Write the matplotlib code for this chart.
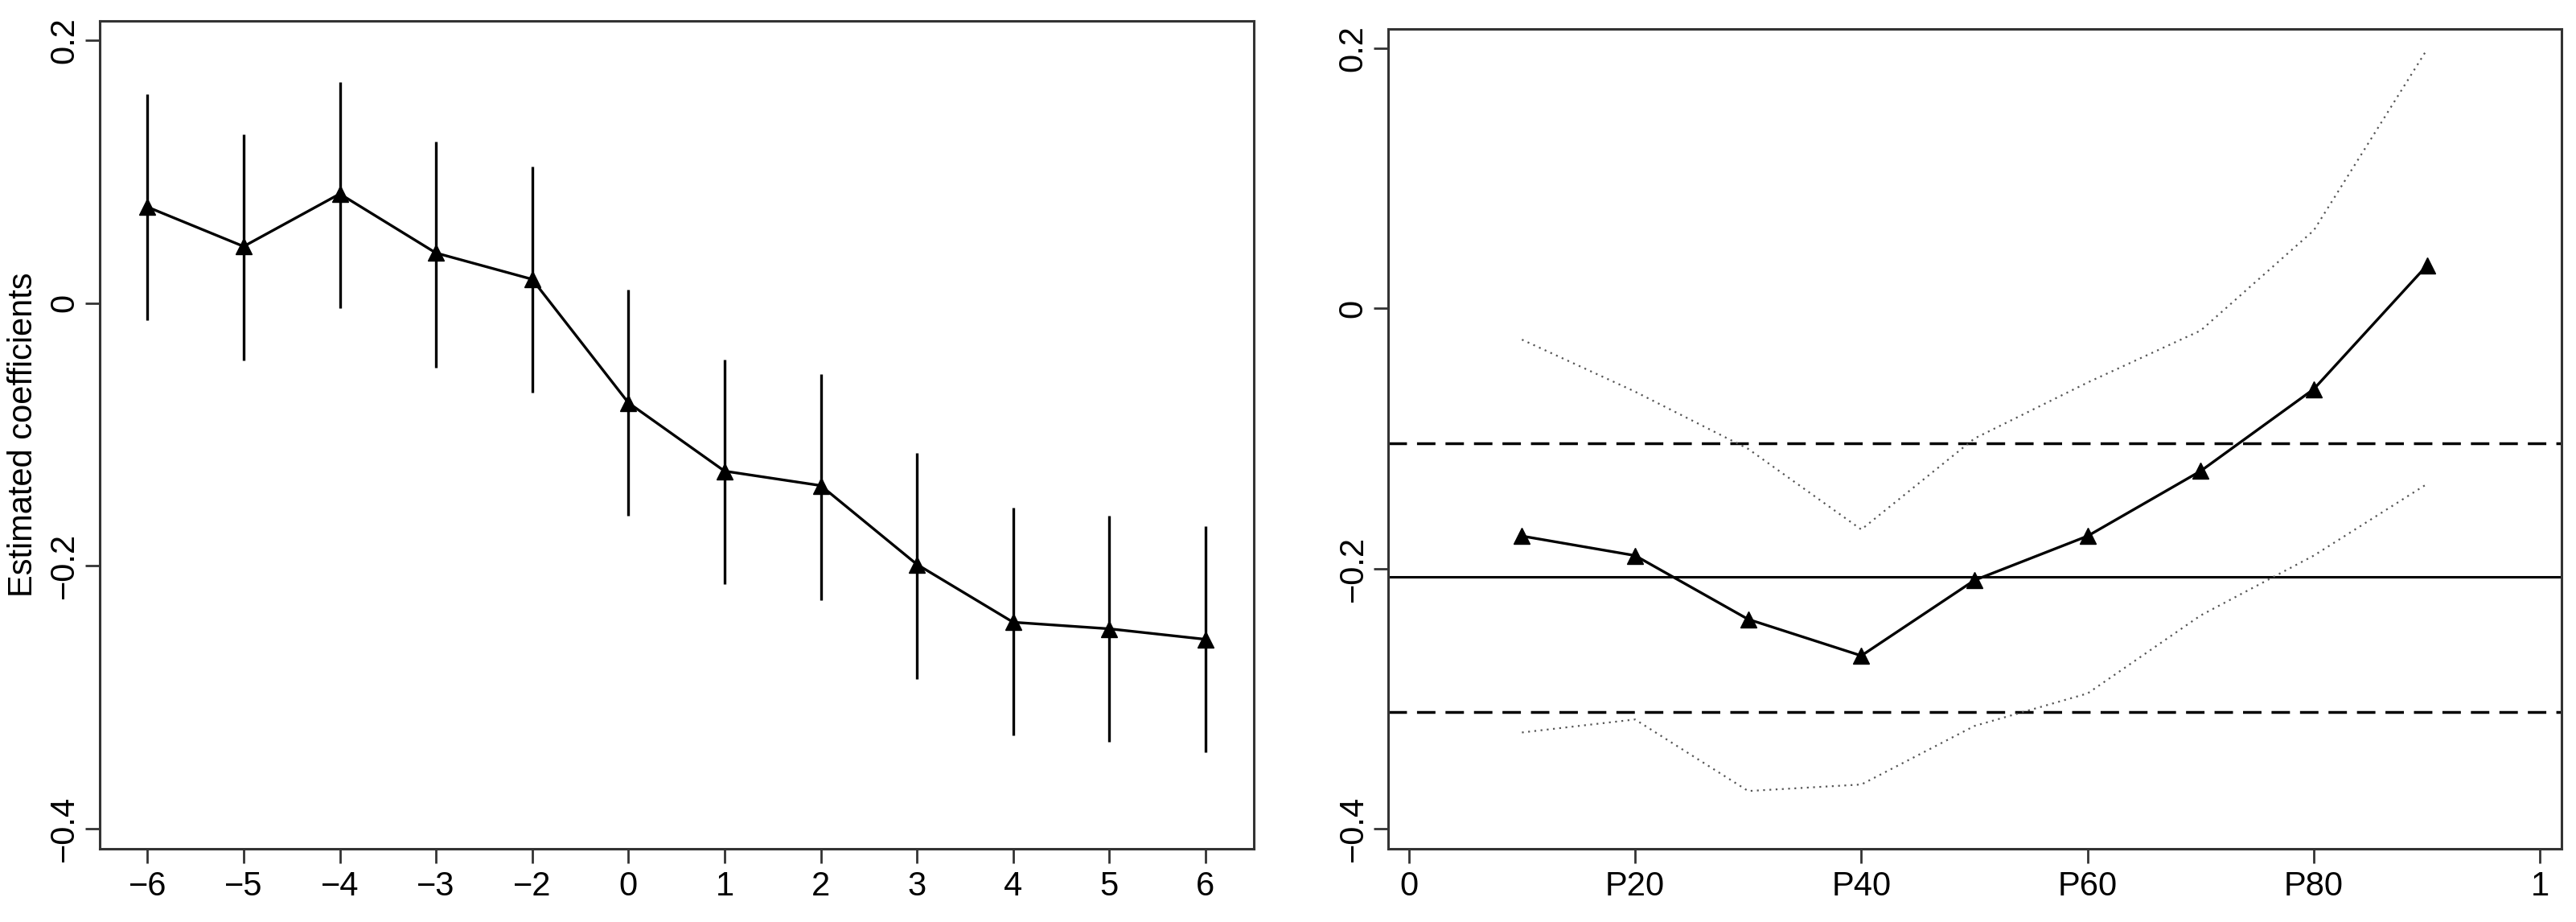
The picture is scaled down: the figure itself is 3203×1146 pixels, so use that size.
import matplotlib
matplotlib.use('Agg')
from matplotlib import pyplot as plt

plt.rcParams['font.family'] = ['Liberation Sans', 'DejaVu Sans']

# left panel: event-time coefficients with confidence bars
event_labels = ['\u22126', '\u22125', '\u22124', '\u22123', '\u22122', '0',
                '1', '2', '3', '4', '5', '6']
event_coef = [0.073, 0.043, 0.083, 0.038, 0.018, -0.076,
              -0.128, -0.139, -0.199, -0.243, -0.248, -0.256]
event_lo = [-0.013, -0.044, -0.004, -0.049, -0.068, -0.162,
            -0.214, -0.226, -0.286, -0.329, -0.334, -0.342]
event_hi = [0.159, 0.128, 0.168, 0.123, 0.104, 0.010,
            -0.043, -0.054, -0.114, -0.156, -0.162, -0.170]

# right panel: quantile coefficients with bands
quantiles = [0.1, 0.2, 0.3, 0.4, 0.5, 0.6, 0.7, 0.8, 0.9]
q_coef = [-0.175, -0.190, -0.239, -0.267, -0.209, -0.175, -0.125, -0.062, 0.033]
q_hi = [-0.024, -0.064, -0.108, -0.170, -0.100, -0.057, -0.017, 0.060, 0.199]
q_lo = [-0.326, -0.316, -0.371, -0.366, -0.321, -0.296, -0.236, -0.190, -0.135]
mean_coef = -0.2066
mean_lo = -0.310
mean_hi = -0.1036
q_ticks = [0, 0.2, 0.4, 0.6, 0.8, 1]
q_ticklabels = ['0', 'P20', 'P40', 'P60', 'P80', '1']

y_ticks = [0.2, 0, -0.2, -0.4]
y_ticklabels = ['0.2', '0', '\u22120.2', '\u22120.4']

FS = 30
BOX = '#333333'

fig = plt.figure(figsize=(32.03, 11.46), dpi=100)
ax1 = fig.add_axes([0.03856, 0.0790, 0.4481, 0.8983])
ax2 = fig.add_axes([0.5390, 0.0790, 0.4554, 0.8893])


def style_axes(ax):
    for sp in ax.spines.values():
        sp.set_color(BOX)
        sp.set_linewidth(2.2)
    ax.tick_params(axis='both', direction='out', length=13, width=2,
                   color=BOX, labelsize=FS, labelcolor='black')
    ax.tick_params(axis='x', pad=6)
    ax.tick_params(axis='y', pad=4)
    ax.set_yticks(y_ticks)
    ax.set_yticklabels(y_ticklabels, rotation=90, va='center')
    ax.set_ylim(-0.4157, 0.2146)


pos = list(range(1, len(event_coef) + 1))
ax1.vlines(pos, event_lo, event_hi, color='black', lw=2.4)
ax1.plot(pos, event_coef, color='black', lw=2.4, marker='^',
         markersize=14)
ax1.set_xlim(0.5, 12.5)
ax1.set_xticks(pos)
ax1.set_xticklabels(event_labels)
style_axes(ax1)
ax1.set_ylabel('Estimated coefficients', fontsize=FS)
ax1.yaxis.set_label_coords(-0.052, 0.5)

ax2.axhline(mean_coef, color='black', lw=2.2)
ax2.axhline(mean_hi, color='black', lw=2.5, linestyle=(0, (6.6, 3.6)))
ax2.axhline(mean_lo, color='black', lw=2.5, linestyle=(0, (6.6, 3.6)))
ax2.plot(quantiles, q_hi, color='#555555', lw=1.6, linestyle=(0, (1, 2.5)))
ax2.plot(quantiles, q_lo, color='#555555', lw=1.6, linestyle=(0, (1, 2.5)))
ax2.plot(quantiles, q_coef, color='black', lw=2.4, marker='^',
         markersize=14)
ax2.set_xlim(-0.018, 1.019)
ax2.set_xticks(q_ticks)
ax2.set_xticklabels(q_ticklabels)
style_axes(ax2)

fig.savefig('out.png', dpi=100)
plt.close(fig)
